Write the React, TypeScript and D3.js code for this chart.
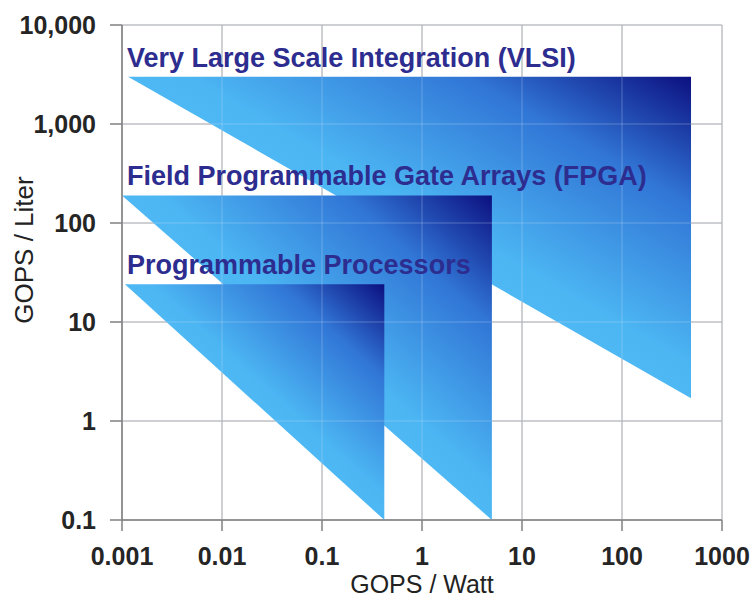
import * as d3 from "d3";

// axis ticks
const xTicks = [0.001, 0.01, 0.1, 1, 10, 100, 1000];
const xTickLabels = ["0.001", "0.01", "0.1", "1", "10", "100", "1000"];
const yTicks = [0.1, 1, 10, 100, 1000, 10000];
const yTickLabels = ["0.1", "1", "10", "100", "1,000", "10,000"];

// technology regions (right-angle triangles in log-log space)
const regionNames = [
  "Very Large Scale Integration (VLSI)",
  "Field Programmable Gate Arrays (FPGA)",
  "Programmable Processors",
];
const regionMinWatt = [0.00115, 0.001, 0.00107];
const regionMaxWatt = [490, 5, 0.42];
const regionMaxLiter = [3000, 190, 24];
const regionMinLiter = [1.7, 0.1, 0.1];

const width = 752;
const height = 601;
const margin = { top: 25, right: 30, bottom: 81, left: 122 };

export default function App() {
  const x = d3
    .scaleLog()
    .domain([0.001, 1000])
    .range([margin.left, width - margin.right]);
  const y = d3
    .scaleLog()
    .domain([0.1, 10000])
    .range([height - margin.bottom, margin.top]);

  const x0 = x.range()[0];
  const x1 = x.range()[1];
  const y0 = y.range()[0];
  const y1 = y.range()[1];

  const line = d3
    .line<[number, number]>()
    .x((d) => x(d[0]))
    .y((d) => y(d[1]));

  const regions = regionNames.map((name, i) => ({
    name,
    pts: [
      [regionMinWatt[i], regionMaxLiter[i]],
      [regionMaxWatt[i], regionMaxLiter[i]],
      [regionMaxWatt[i], regionMinLiter[i]],
    ] as [number, number][],
    top: regionMaxLiter[i],
  }));

  const font = "'Liberation Sans', Arial, sans-serif";

  const grid = (stroke: string, opacity: number) => (
    <g stroke={stroke} strokeOpacity={opacity} strokeWidth={1}>
      {xTicks.map((t) => (
        <line key={`gx${t}`} x1={x(t)} x2={x(t)} y1={y1} y2={y0} />
      ))}
      {yTicks.map((t) => (
        <line key={`gy${t}`} x1={x0} x2={x1} y1={y(t)} y2={y(t)} />
      ))}
    </g>
  );

  return (
    <svg
      width={width}
      height={height}
      style={{ position: "absolute", left: 0, top: 0, background: "#fff" }}
    >
      <defs>
        <linearGradient id="regionFill" x1="0" y1="1" x2="1" y2="0">
          <stop offset="0" stopColor="#60cdfc" />
          <stop offset="0.55" stopColor="#4cb6f3" />
          <stop offset="0.8" stopColor="#3176d6" />
          <stop offset="1" stopColor="#0c1080" />
        </linearGradient>
        <clipPath id="plotClip">
          <rect x={x0} y={y1} width={x1 - x0} height={y0 - y1} />
        </clipPath>
      </defs>

      {/* Grid under regions */}
      {grid("#9a9a9a", 1)}

      {/* Regions */}
      <g clipPath="url(#plotClip)">
        {regions.map((r) => (
          <path key={r.name} d={line(r.pts) + "Z"} fill="url(#regionFill)" />
        ))}
      </g>

      {/* faint grid drawn over the regions */}
      {grid("#d6e2f4", 0.3)}

      {/* Axes */}
      <g stroke="#808080" strokeWidth={1.5}>
        <line x1={x0} x2={x0} y1={y1} y2={y0} />
        <line x1={x0} x2={x1} y1={y0} y2={y0} />
        {yTicks.map((t) => (
          <line key={`ty${t}`} x1={x0 - 12} x2={x0} y1={y(t)} y2={y(t)} />
        ))}
        {xTicks.map((t) => (
          <line key={`tx${t}`} x1={x(t)} x2={x(t)} y1={y0} y2={y0 + 11} />
        ))}
      </g>

      {/* Tick labels */}
      <g fontFamily={font} fontSize={25} fontWeight="bold" fill="#252525">
        {yTicks.map((t, i) => (
          <text
            key={`ly${t}`}
            x={x0 - 26}
            y={y(t)}
            dy="0.36em"
            textAnchor="end"
          >
            {yTickLabels[i]}
          </text>
        ))}
        {xTicks.map((t, i) => (
          <text key={`lx${t}`} x={x(t)} y={y0 + 45} textAnchor="middle">
            {xTickLabels[i]}
          </text>
        ))}
      </g>

      {/* Axis titles */}
      <text
        x={(x0 + x1) / 2}
        y={593}
        textAnchor="middle"
        fontFamily={font}
        fontSize={25}
        fill="#222"
      >
        GOPS / Watt
      </text>
      <text
        transform="translate(33, 250) rotate(-90)"
        textAnchor="middle"
        fontFamily={font}
        fontSize={26}
        fill="#222"
      >
        GOPS / Liter
      </text>

      {/* Region labels */}
      <g fontFamily={font} fontSize={27} fontWeight="bold" fill="#2d2d90">
        {regions.map((r) => (
          <text key={`n${r.name}`} x={127} y={y(r.top) - 10}>
            {r.name}
          </text>
        ))}
      </g>
    </svg>
  );
}
